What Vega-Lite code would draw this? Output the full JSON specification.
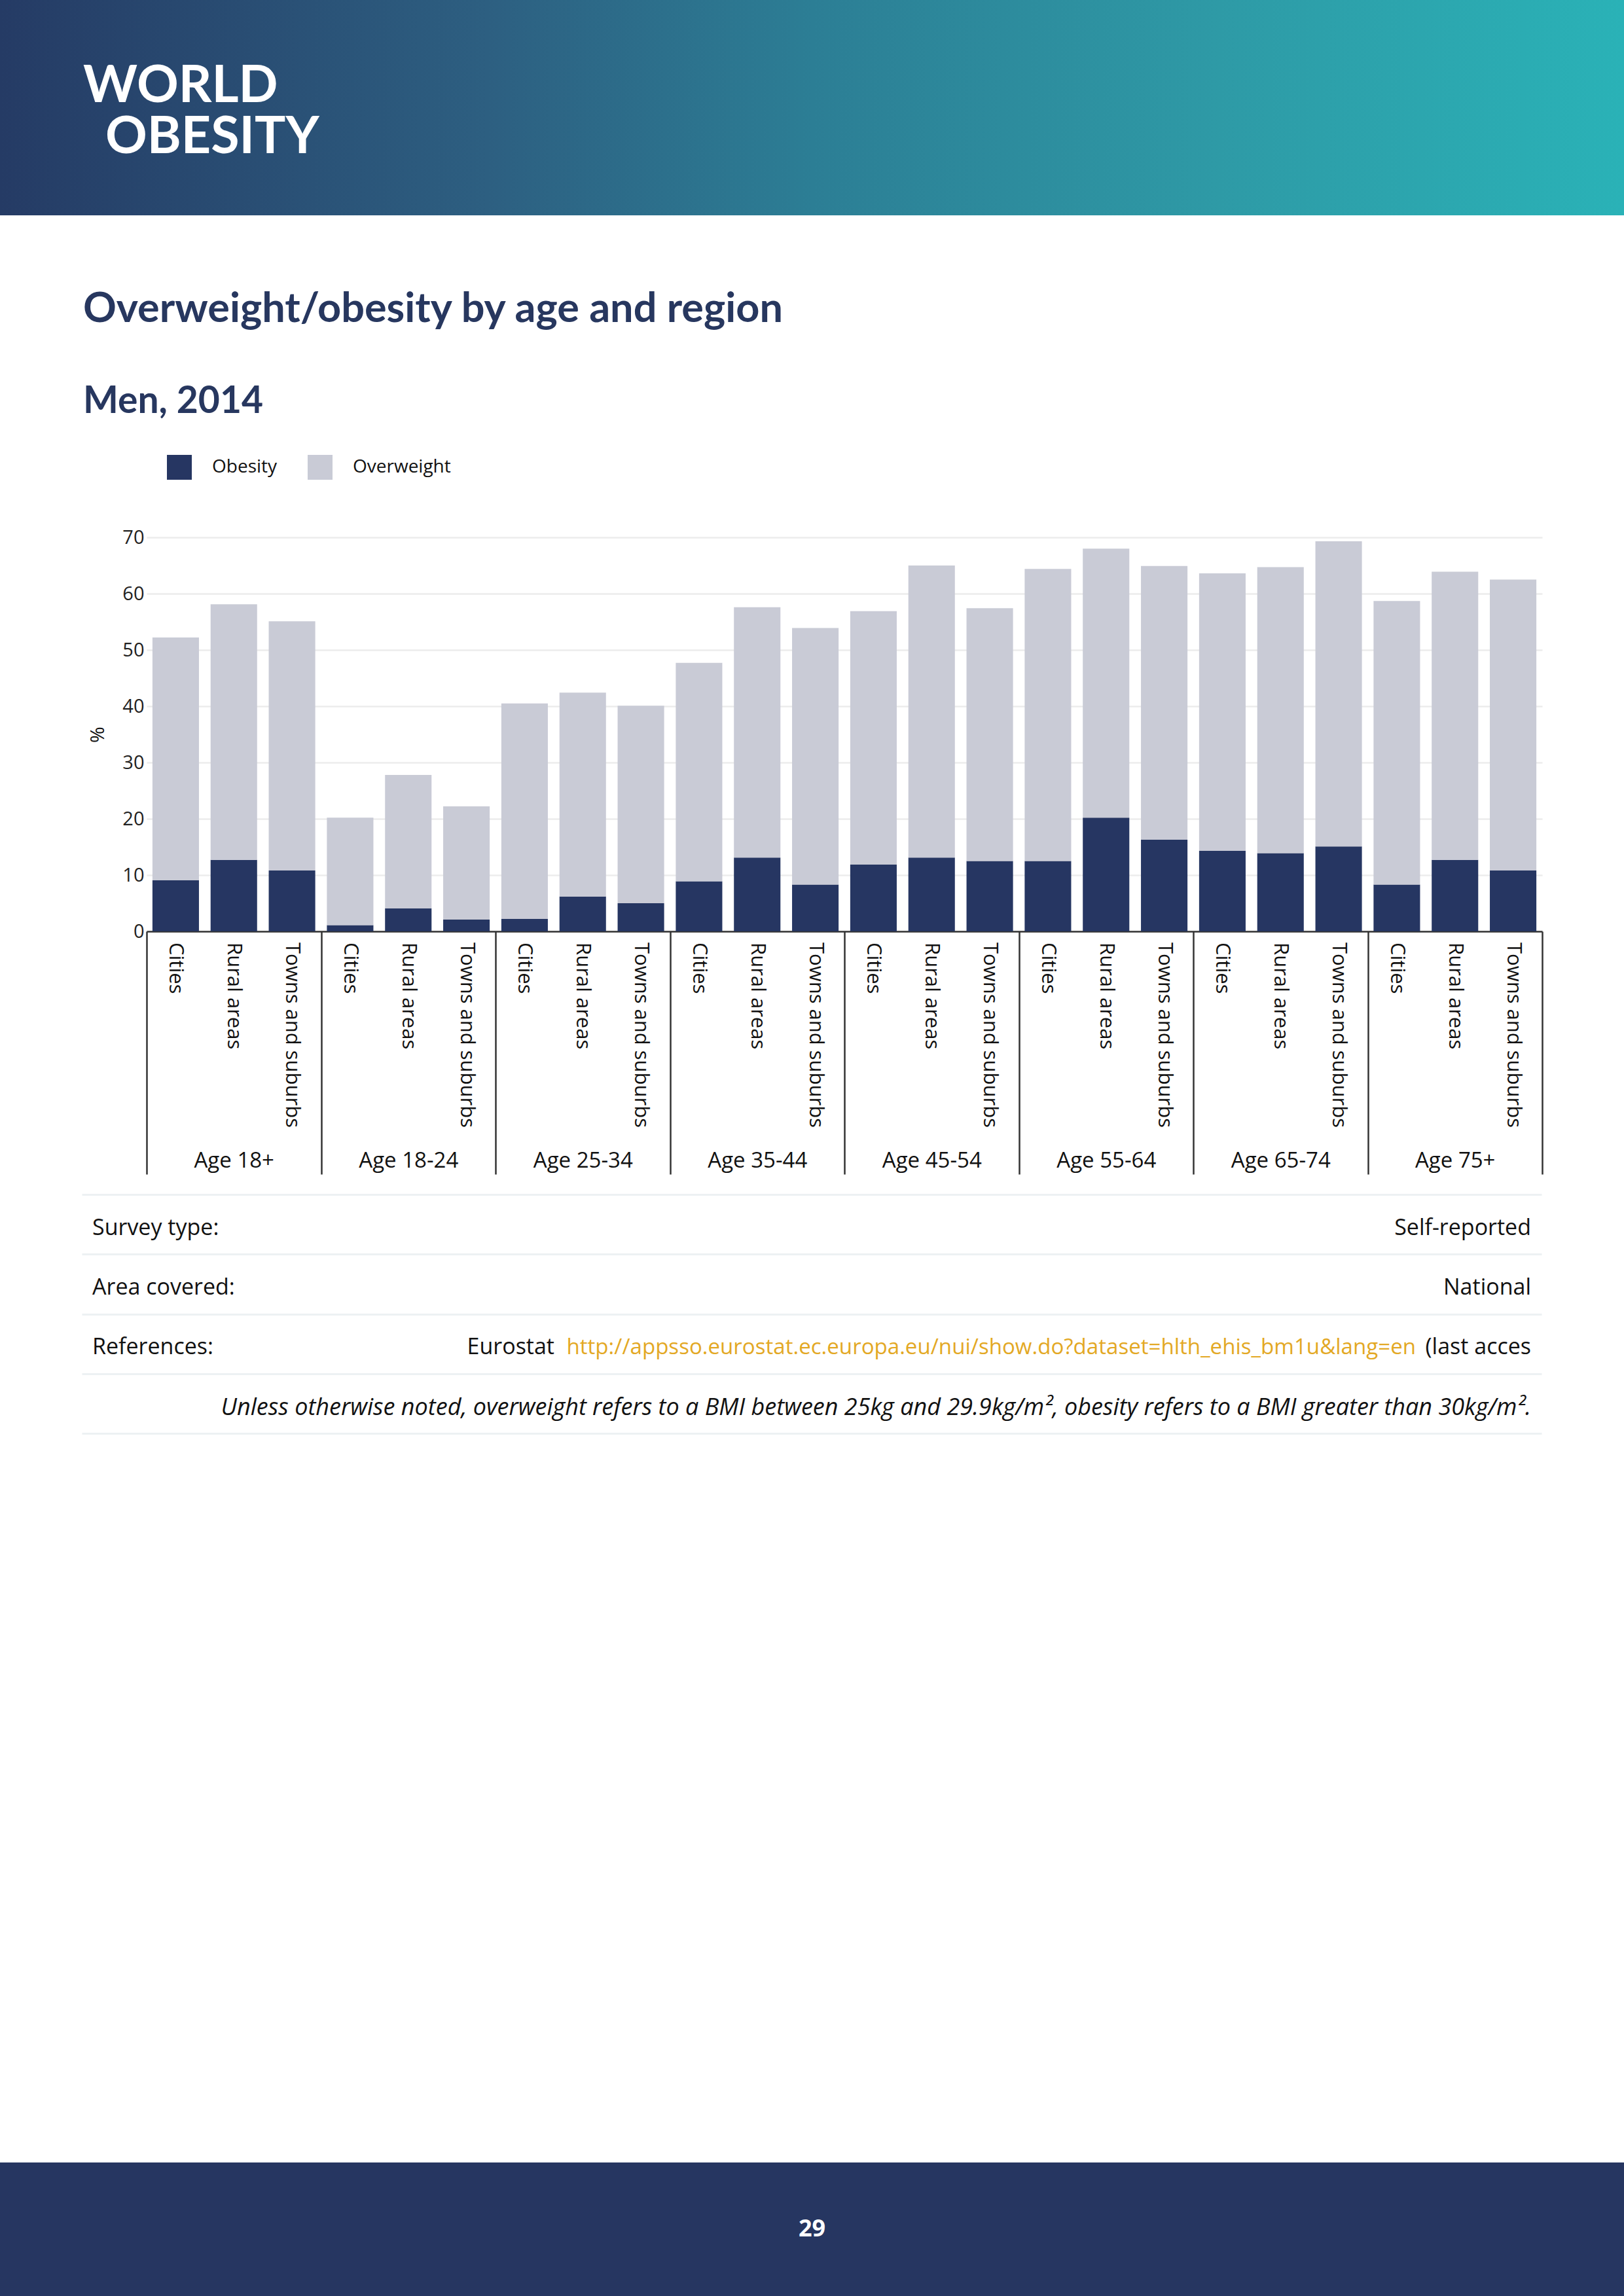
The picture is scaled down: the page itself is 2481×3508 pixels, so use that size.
{
  "$schema": "https://vega.github.io/schema/vega-lite/v6.json",
  "padding": 0,
  "background": "white",
  "bounds": "flush",
  "spacing": 0,
  "config": {"view": {"stroke": null}, "font": "Open Sans"},
  "vconcat": [
    {
      "width": 2481,
      "height": 329,
      "data": {"values": [{"logo": "WORLD OBESITY"}]},
      "title": {
        "text": "WORLD", "anchor": "start", "frame": "group", "orient": "top",
        "offset": -173, "dx": 127, "color": "white", "font": "Lato", "fontSize": 79, "fontWeight": "bold"
      },
      "mark": {
        "type": "rect",
        "color": {
          "gradient": "linear", "x1": 0, "x2": 1, "y1": 0, "y2": 0,
          "stops": [
            {"offset": 0, "color": "#253b65"},
            {"offset": 0.3, "color": "#2d5f81"},
            {"offset": 0.5, "color": "#2c7e95"},
            {"offset": 0.75, "color": "#2e9aa6"},
            {"offset": 1, "color": "#2ab2b7"}
          ]
        }
      },
      "encoding": {"x": {"value": 0}, "x2": {"value": "width"}, "y": {"value": 0}, "y2": {"value": "height"}}
    },
    {
      "width": 1, "height": 492, "data": {"values": []}, "mark": "point",
      "title": {
        "text": "OBESITY", "anchor": "start", "frame": "group", "orient": "top",
        "offset": 78, "dx": 161, "color": "white", "font": "Lato", "fontSize": 79, "fontWeight": "bold"
      }
    },
    {
      "bounds": "flush",
      "spacing": 0,
      "title": {
        "text": "Overweight/obesity by age and region", "subtitle": "Men, 2014",
        "anchor": "start", "frame": "group", "orient": "top", "dx": 127, "offset": 165,
        "font": "Lato", "fontSize": 63, "fontWeight": "bold", "color": "#27375f",
        "subtitleFont": "Lato", "subtitleFontSize": 57, "subtitleFontWeight": "bold", "subtitleColor": "#27375f",
        "subtitlePadding": 81
      },
      "hconcat": [
        {"width": 224, "height": 602, "data": {"values": []}, "mark": "point"},
        {
          "width": 2132,
          "height": 602,
          "data": {
            "values": [
              {"age": "Age 18+", "region": "Cities", "Obesity": 9.1, "Overweight": 43.1},
              {"age": "Age 18+", "region": "Rural areas", "Obesity": 12.7, "Overweight": 45.4},
              {"age": "Age 18+", "region": "Towns and suburbs", "Obesity": 10.8, "Overweight": 44.3},
              {"age": "Age 18-24", "region": "Cities", "Obesity": 1.1, "Overweight": 19.1},
              {"age": "Age 18-24", "region": "Rural areas", "Obesity": 4.1, "Overweight": 23.7},
              {"age": "Age 18-24", "region": "Towns and suburbs", "Obesity": 2.1, "Overweight": 20.1},
              {"age": "Age 25-34", "region": "Cities", "Obesity": 2.2, "Overweight": 38.3},
              {"age": "Age 25-34", "region": "Rural areas", "Obesity": 6.2, "Overweight": 36.2},
              {"age": "Age 25-34", "region": "Towns and suburbs", "Obesity": 5.0, "Overweight": 35.1},
              {"age": "Age 35-44", "region": "Cities", "Obesity": 8.9, "Overweight": 38.8},
              {"age": "Age 35-44", "region": "Rural areas", "Obesity": 13.1, "Overweight": 44.5},
              {"age": "Age 35-44", "region": "Towns and suburbs", "Obesity": 8.3, "Overweight": 45.6},
              {"age": "Age 45-54", "region": "Cities", "Obesity": 11.9, "Overweight": 45.0},
              {"age": "Age 45-54", "region": "Rural areas", "Obesity": 13.1, "Overweight": 51.9},
              {"age": "Age 45-54", "region": "Towns and suburbs", "Obesity": 12.5, "Overweight": 44.9},
              {"age": "Age 55-64", "region": "Cities", "Obesity": 12.5, "Overweight": 51.9},
              {"age": "Age 55-64", "region": "Rural areas", "Obesity": 20.2, "Overweight": 47.8},
              {"age": "Age 55-64", "region": "Towns and suburbs", "Obesity": 16.3, "Overweight": 48.6},
              {"age": "Age 65-74", "region": "Cities", "Obesity": 14.3, "Overweight": 49.3},
              {"age": "Age 65-74", "region": "Rural areas", "Obesity": 13.9, "Overweight": 50.8},
              {"age": "Age 65-74", "region": "Towns and suburbs", "Obesity": 15.1, "Overweight": 54.2},
              {"age": "Age 75+", "region": "Cities", "Obesity": 8.3, "Overweight": 50.4},
              {"age": "Age 75+", "region": "Rural areas", "Obesity": 12.7, "Overweight": 51.2},
              {"age": "Age 75+", "region": "Towns and suburbs", "Obesity": 10.8, "Overweight": 51.7}
            ]
          },
          "layer": [
            {
              "transform": [{"fold": ["Obesity", "Overweight"], "as": ["measure", "value"]}],
              "mark": {"type": "bar"},
              "encoding": {
                "x": {
                  "field": "age", "type": "nominal",
                  "sort": ["Age 18+", "Age 18-24", "Age 25-34", "Age 35-44", "Age 45-54", "Age 55-64", "Age 65-74", "Age 75+"],
                  "scale": {"paddingInner": 0, "paddingOuter": 0},
                  "axis": {
                    "title": null, "orient": "bottom", "domainColor": "#333333", "domainWidth": 2.5,
                    "ticks": true, "tickBand": "extent", "tickSize": 371, "tickColor": "#333333", "tickWidth": 2.5,
                    "labelAngle": 0, "labelFontSize": 33, "labelFont": "Open Sans", "labelColor": "#111111",
                    "labelPadding": -37, "labelBaseline": "top"
                  }
                },
                "xOffset": {
                  "field": "region", "type": "nominal",
                  "sort": ["Cities", "Rural areas", "Towns and suburbs"],
                  "scale": {"paddingInner": 0.2, "paddingOuter": 0.1}
                },
                "y": {
                  "field": "value", "type": "quantitative", "stack": "zero",
                  "scale": {"domain": [0, 70], "nice": false},
                  "axis": {
                    "title": "%", "titleFontSize": 30, "titleFont": "Open Sans", "titleFontWeight": "normal",
                    "titleColor": "#111111", "titlePadding": 22,
                    "values": [0, 10, 20, 30, 40, 50, 60, 70],
                    "grid": true, "gridColor": "#ececec", "gridWidth": 2.5,
                    "domain": false, "ticks": false,
                    "labelFontSize": 29, "labelFont": "Open Sans", "labelColor": "#222222", "labelPadding": 4
                  }
                },
                "color": {
                  "field": "measure", "type": "nominal",
                  "scale": {"domain": ["Obesity", "Overweight"], "range": ["#263662", "#c9cbd6"]},
                  "legend": {
                    "orient": "none", "legendX": 255, "legendY": 695, "direction": "horizontal", "title": null,
                    "symbolType": "square", "symbolSize": 1444, "symbolStrokeWidth": 0, "symbolOpacity": 1,
                    "labelFontSize": 28, "labelFont": "Open Sans", "labelColor": "#111111",
                    "labelOffset": 31, "columnPadding": 46, "padding": 0
                  }
                },
                "order": {"field": "measure", "sort": "ascending"}
              }
            },
            {
              "mark": {"type": "text", "angle": 90, "align": "left", "baseline": "middle", "dx": 17, "fontSize": 31, "font": "Open Sans", "color": "#111111"},
              "encoding": {
                "x": {
                  "field": "age", "type": "nominal",
                  "sort": ["Age 18+", "Age 18-24", "Age 25-34", "Age 35-44", "Age 45-54", "Age 55-64", "Age 65-74", "Age 75+"]
                },
                "xOffset": {"field": "region", "type": "nominal", "sort": ["Cities", "Rural areas", "Towns and suburbs"]},
                "y": {"datum": 0, "type": "quantitative"},
                "text": {"field": "region"}
              }
            }
          ]
        }
      ]
    },
    {"width": 1, "height": 1004, "data": {"values": []}, "mark": "point"},
    {
      "bounds": "flush",
      "spacing": 0,
      "hconcat": [
        {"width": 125, "height": 365, "data": {"values": []}, "mark": "point"},
        {
          "width": 2230,
          "height": 365,
          "data": {
            "values": [
              {"key": "survey", "label": "Survey type:", "value": "Self-reported", "source": "", "link": "", "note": ""},
              {"key": "area", "label": "Area covered:", "value": "National", "source": "", "link": "", "note": ""},
              {"key": "refs", "label": "References:", "value": "(last acces", "source": "Eurostat", "link": "http://appsso.eurostat.ec.europa.eu/nui/show.do?dataset=hlth_ehis_bm1u&lang=en", "note": ""},
              {"key": "note", "label": "", "value": "", "source": "", "link": "", "note": "Unless otherwise noted, overweight refers to a BMI between 25kg and 29.9kg/m², obesity refers to a BMI greater than 30kg/m²."}
            ]
          },
          "encoding": {
            "y": {
              "field": "key", "type": "nominal", "sort": ["survey", "area", "refs", "note"],
              "scale": {"paddingInner": 0, "paddingOuter": 0},
              "axis": {"title": null, "labels": false, "ticks": false, "domain": false, "grid": true, "tickBand": "extent", "gridColor": "#edf1f3", "gridWidth": 3}
            }
          },
          "layer": [
            {
              "mark": {"type": "text", "align": "left", "baseline": "middle", "dx": 16, "dy": 6, "fontSize": 34, "font": "Open Sans", "color": "#111111"},
              "encoding": {"x": {"value": 0}, "text": {"field": "label"}}
            },
            {
              "mark": {"type": "text", "align": "right", "baseline": "middle", "dx": -16, "dy": 6, "fontSize": 34, "font": "Open Sans", "color": "#111111"},
              "encoding": {"x": {"value": "width"}, "text": {"field": "value"}}
            },
            {
              "mark": {"type": "text", "align": "right", "baseline": "middle", "dx": -192, "dy": 6, "fontSize": 33.1, "font": "Open Sans", "color": "#e3a824"},
              "encoding": {"x": {"value": "width"}, "text": {"field": "link"}}
            },
            {
              "mark": {"type": "text", "align": "right", "baseline": "middle", "dx": -1508, "dy": 6, "fontSize": 34, "font": "Open Sans", "color": "#111111"},
              "encoding": {"x": {"value": "width"}, "text": {"field": "source"}}
            },
            {
              "mark": {"type": "text", "align": "right", "baseline": "middle", "dx": -16, "dy": 7, "fontSize": 36, "font": "Open Sans", "fontStyle": "italic", "color": "#111111"},
              "encoding": {"x": {"value": "width"}, "text": {"field": "note"}}
            }
          ]
        }
      ]
    },
    {"width": 1, "height": 1479, "data": {"values": []}, "mark": "point"},
    {
      "width": 2481,
      "height": 204,
      "data": {"values": [{"page": "29"}]},
      "layer": [
        {
          "mark": {"type": "rect", "color": "#263661"},
          "encoding": {"x": {"value": 0}, "x2": {"value": "width"}, "y": {"value": 0}, "y2": {"value": "height"}}
        },
        {
          "mark": {"type": "text", "color": "white", "fontSize": 36, "fontWeight": "bold", "font": "Open Sans", "baseline": "middle"},
          "encoding": {"text": {"field": "page"}}
        }
      ]
    }
  ]
}
